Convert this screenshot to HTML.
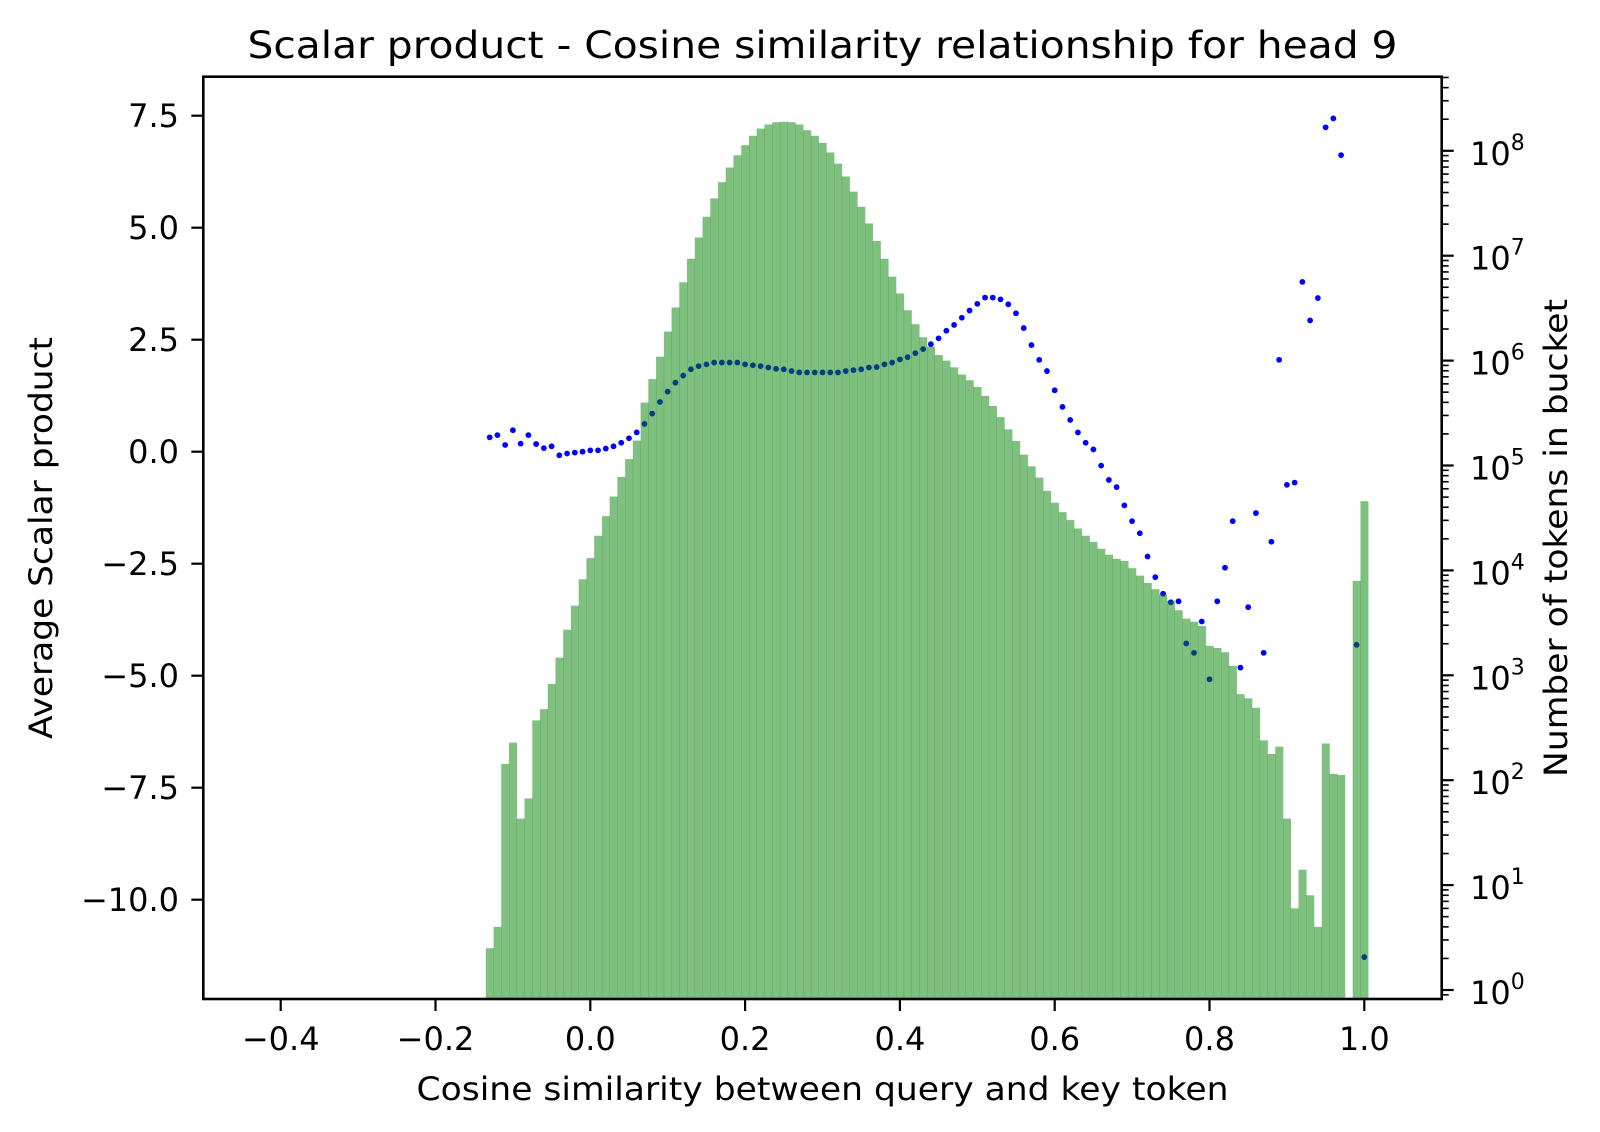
<!DOCTYPE html>
<html><head><meta charset="utf-8">
<style>
html,body{margin:0;padding:0;background:#fff;}
svg{display:block;font-family:"DejaVu Sans","Liberation Sans",sans-serif;}
</style></head>
<body>
<svg id="chart" width="1600" height="1132" viewBox="0 0 1600 1132" xmlns="http://www.w3.org/2000/svg">
  <rect x="0" y="0" width="1600" height="1132" fill="#fff"/>
  <text x="822.5" y="58" font-size="37" text-anchor="middle" fill="#000" textLength="1150" lengthAdjust="spacingAndGlyphs">Scalar product - Cosine similarity relationship for head 9</text>
  <g id="dots"></g>
  <g id="bars"></g>
  <g id="axes"></g>
  <text x="822.5" y="1100" font-size="32" text-anchor="middle" fill="#000" textLength="812" lengthAdjust="spacingAndGlyphs">Cosine similarity between query and key token</text>
  <text transform="translate(52,538) rotate(-90)" font-size="32" text-anchor="middle" fill="#000" textLength="402" lengthAdjust="spacingAndGlyphs">Average Scalar product</text>
  <text transform="translate(1567,538) rotate(-90)" font-size="32" text-anchor="middle" fill="#000" textLength="478" lengthAdjust="spacingAndGlyphs">Number of tokens in bucket</text>
</svg>
<script>
// ---- data ----
const binCenters = [-0.13,-0.12,-0.11,-0.10,-0.09,-0.08,-0.07,-0.06,-0.05,-0.04,-0.03,-0.02,-0.01,0.00,0.01,0.02,0.03,0.04,0.05,0.06,0.07,0.08,0.09,0.10,0.11,0.12,0.13,0.14,0.15,0.16,0.17,0.18,0.19,0.20,0.21,0.22,0.23,0.24,0.25,0.26,0.27,0.28,0.29,0.30,0.31,0.32,0.33,0.34,0.35,0.36,0.37,0.38,0.39,0.40,0.41,0.42,0.43,0.44,0.45,0.46,0.47,0.48,0.49,0.50,0.51,0.52,0.53,0.54,0.55,0.56,0.57,0.58,0.59,0.60,0.61,0.62,0.63,0.64,0.65,0.66,0.67,0.68,0.69,0.70,0.71,0.72,0.73,0.74,0.75,0.76,0.77,0.78,0.79,0.80,0.81,0.82,0.83,0.84,0.85,0.86,0.87,0.88,0.89,0.90,0.91,0.92,0.93,0.94,0.95,0.96,0.97,0.98,0.99,1.00];
const tokenCounts = [2.5,4,143,228,43,67,372,475,826,1472,2720,4610,8220,13100,21400,32900,50600,77800,115000,173000,398000,667000,1090000,1890000,3210000,5580000,9350000,14900000,23500000,35200000,50200000,69200000,90600000,113000000,139000000,163000000,178000000,187000000,189000000,187000000,178000000,157000000,139000000,119000000,96400000,75400000,56900000,40800000,29300000,20300000,13800000,9350000,6310000,4370000,3020000,2220000,1670000,1360000,1130000,1000000,863000,736000,650000,561000,461000,370000,289000,221000,171000,127000,98200,76700,57100,44200,35900,30200,25100,21400,18700,16100,14100,12900,12300,10500,8910,7590,6610,5890,5130,4170,3470,3240,2950,1910,1820,1660,1230,661,603,490,240,178,209,43,6,14,8,4,224,115,112,0,7940,45700];
const dotX = [-0.13,-0.12,-0.11,-0.10,-0.09,-0.08,-0.07,-0.06,-0.05,-0.04,-0.03,-0.02,-0.01,0.00,0.01,0.02,0.03,0.04,0.05,0.06,0.07,0.08,0.09,0.10,0.11,0.12,0.13,0.14,0.15,0.16,0.17,0.18,0.19,0.20,0.21,0.22,0.23,0.24,0.25,0.26,0.27,0.28,0.29,0.30,0.31,0.32,0.33,0.34,0.35,0.36,0.37,0.38,0.39,0.40,0.41,0.42,0.43,0.44,0.45,0.46,0.47,0.48,0.49,0.50,0.51,0.52,0.53,0.54,0.55,0.56,0.57,0.58,0.59,0.60,0.61,0.62,0.63,0.64,0.65,0.66,0.67,0.68,0.69,0.70,0.71,0.72,0.73,0.74,0.75,0.76,0.77,0.78,0.79,0.80,0.81,0.82,0.83,0.84,0.85,0.86,0.87,0.88,0.89,0.90,0.91,0.92,0.93,0.94,0.95,0.96,0.97,0.99,1.00];
const avgScalar = [0.32,0.37,0.15,0.48,0.18,0.37,0.17,0.08,0.12,-0.08,-0.04,-0.02,0.00,0.03,0.03,0.07,0.12,0.20,0.30,0.43,0.62,0.85,1.11,1.34,1.54,1.70,1.84,1.91,1.95,1.99,1.99,1.99,1.99,1.95,1.93,1.91,1.88,1.85,1.84,1.80,1.77,1.77,1.77,1.77,1.77,1.77,1.80,1.82,1.84,1.88,1.89,1.95,1.99,2.06,2.11,2.20,2.29,2.40,2.53,2.70,2.83,2.99,3.15,3.30,3.44,3.44,3.40,3.29,3.09,2.76,2.38,2.05,1.80,1.37,1.00,0.71,0.43,0.20,0.05,-0.31,-0.63,-0.79,-1.20,-1.55,-1.82,-2.34,-2.80,-3.17,-3.36,-3.34,-4.28,-4.49,-3.79,-5.08,-3.34,-2.59,-1.55,-4.82,-3.47,-1.37,-4.49,-2.01,2.05,-0.74,-0.69,3.79,2.93,3.43,7.24,7.44,6.62,-4.31,-11.28];
const xTickValues = [-0.4,-0.2,0.0,0.2,0.4,0.6,0.8,1.0];
const xTickLabels = ["\u22120.4","\u22120.2","0.0","0.2","0.4","0.6","0.8","1.0"];
const yTickValues = [7.5,5.0,2.5,0.0,-2.5,-5.0,-7.5,-10.0];
const yTickLabels = ["7.5","5.0","2.5","0.0","\u22122.5","\u22125.0","\u22127.5","\u221210.0"];
const rightTickExponents = [0,1,2,3,4,5,6,7,8];

// ---- geometry ----
const NS = "http://www.w3.org/2000/svg";
const L = 203.3, R = 1441.7, T = 76.7, B = 999;
const xMin = -0.5, xMax = 1.1;
const binWidth = 0.01;
function xS(v){ return L + (v - xMin) / (xMax - xMin) * (R - L); }
function yL(v){ return 451.7 - v * 44.8; }
function yR(c){ return 990.0 - Math.log10(c) * 104.9; }
function yRlog(lg){ return 990.0 - lg * 104.9; }
function mk(tag, attrs, parent){
  const e = document.createElementNS(NS, tag);
  for (const k in attrs) e.setAttribute(k, attrs[k]);
  parent.appendChild(e);
  return e;
}

// dots
const dotsG = document.getElementById('dots');
for (let i = 0; i < dotX.length; i++) {
  const c = mk('circle', {cx: xS(dotX[i]).toFixed(2), cy: yL(avgScalar[i]).toFixed(2), r: 2.9, fill: '#0000ff'}, dotsG);
  
  
}

// bars
const barsG = document.getElementById('bars');
for (let i = 0; i < binCenters.length; i++) {
  const n = tokenCounts[i];
  if (!(n > 0)) continue;
  const x0 = xS(binCenters[i] - binWidth / 2), x1 = xS(binCenters[i] + binWidth / 2);
  const top = Math.max(T, yR(n));
  const r = mk('rect', {x: x0.toFixed(2), y: top.toFixed(2), width: (x1 - x0 + 0.3).toFixed(2), height: (B - top).toFixed(2), fill: '#008000', 'fill-opacity': 0.5}, barsG);
  
  
}

// axes
const ax = document.getElementById('axes');
const frame = mk('rect', {x: L, y: T, width: R - L, height: B - T, fill: 'none', stroke: '#000', 'stroke-width': 2.6}, ax);



for (let i = 0; i < xTickValues.length; i++) {
  const x = xS(xTickValues[i]);
  const t = mk('line', {x1: x, x2: x, y1: B, y2: B + 12, stroke: '#000', 'stroke-width': 2.2}, ax);
  
  
  const lb = mk('text', {x: x, y: 1050, 'font-size': 32, 'text-anchor': 'middle', fill: '#000'}, ax);
  lb.textContent = xTickLabels[i];
  
  
}
for (let i = 0; i < yTickValues.length; i++) {
  const y = yL(yTickValues[i]);
  const t = mk('line', {x1: L - 12, x2: L, y1: y, y2: y, stroke: '#000', 'stroke-width': 2.2}, ax);
  
  
  const lb = mk('text', {x: 179, y: y + 11.5, 'font-size': 32, 'text-anchor': 'end', fill: '#000'}, ax);
  lb.textContent = yTickLabels[i];
  
  
}
const lgTop = (990.0 - T) / 104.9, lgBot = (990.0 - B) / 104.9;
for (let d = -1; d <= 8; d++) {
  for (let k = 2; k <= 9; k++) {
    const lg = d + Math.log10(k);
    if (lg < lgBot || lg > lgTop) continue;
    const y = yRlog(lg);
    const t = mk('line', {x1: R, x2: R + 7, y1: y, y2: y, stroke: '#000', 'stroke-width': 1.6}, ax);
    
    
  }
}
for (let i = 0; i < rightTickExponents.length; i++) {
  const y = yRlog(rightTickExponents[i]);
  const t = mk('line', {x1: R, x2: R + 12, y1: y, y2: y, stroke: '#000', 'stroke-width': 2.2}, ax);
  
  
  const lb = mk('text', {x: 1470, y: y + 14, 'font-size': 32, fill: '#000'}, ax);
  
  
  lb.appendChild(document.createTextNode('10'));
  const sup = mk('tspan', {dy: -15, 'font-size': 22}, lb);
  sup.textContent = String(rightTickExponents[i]);
}
</script>
</body></html>
